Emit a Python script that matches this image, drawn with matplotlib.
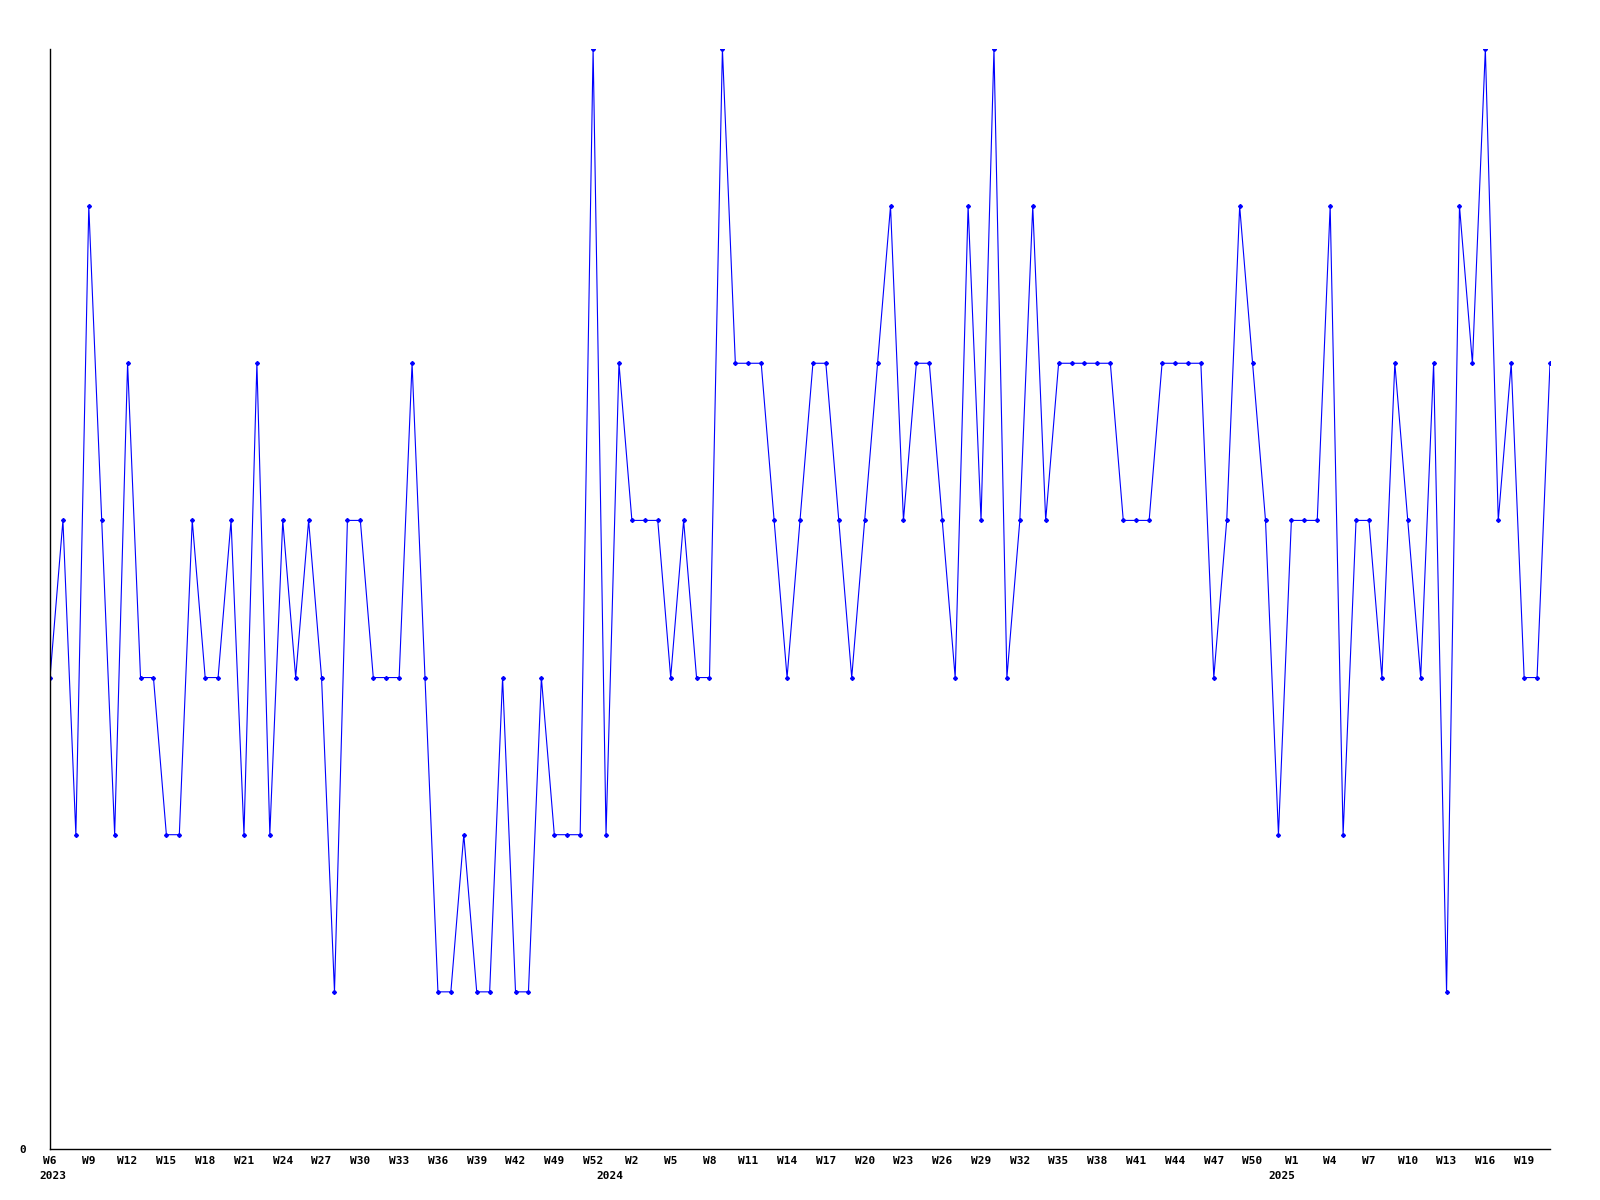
import matplotlib.pyplot as plt
import numpy as np

# week categories along the x axis (one point per week)
years = [2023] * 44 + [2024] * 52 + [2025] * 21
weeks = (list(range(6, 43)) + [43, 48, 49, 50, 51, 52, 53]
         + list(range(1, 53)) + list(range(1, 22)))

# weekly values
values = [3, 4, 2, 6, 4, 2, 5, 3, 3, 2, 2, 4, 3, 3, 4, 2, 5, 2, 4, 3, 4, 3, 1, 4, 4,
          3, 3, 3, 5, 3, 1, 1, 2, 1, 1, 3, 1, 1, 3, 2, 2, 2, 7, 2, 5, 4, 4, 4, 3,
          4, 3, 3, 7, 5, 5, 5, 4, 3, 4, 5, 5, 4, 3, 4, 5, 6, 4, 5, 5, 4, 3, 6, 4,
          7, 3, 4, 6, 4, 5, 5, 5, 5, 5, 4, 4, 4, 5, 5, 5, 5, 3, 4, 6, 5, 4, 2, 4,
          4, 4, 6, 2, 4, 4, 3, 5, 4, 3, 5, 1, 6, 5, 7, 4, 5, 3, 3, 5]

font = dict(family='DejaVu Sans Mono', weight='bold', size=8)

fig = plt.figure(figsize=(16, 12), dpi=100)
ax = fig.add_axes([0.03125, 0.0425, 0.9375, 0.9167])

x = np.arange(len(values))
ax.plot(x, values, color='#0000ff', lw=0.8, marker='D', ms=2)

ax.set_xlim(0, len(values) - 1)
ax.set_ylim(0, 7)
ax.spines['top'].set_visible(False)
ax.spines['right'].set_visible(False)
for s in ['left', 'bottom']:
    ax.spines[s].set_linewidth(1)
    ax.spines[s].set_color('black')

# week ticks every third point
ticks = x[::3]
ax.set_xticks(ticks)
ax.set_xticklabels(['W%d' % weeks[i] for i in ticks], **font)
ax.tick_params(axis='x', length=0, pad=5)

ax.set_yticks([0])
ax.set_yticklabels(['0'], **font)
ax.tick_params(axis='y', length=0, pad=17)

# year labels under the first week of each year
for yr in sorted(set(years)):
    i = years.index(yr)
    ax.annotate(str(yr), xy=(max(i - 0.7, 0.25), 0),
                xycoords=('data', 'axes fraction'),
                xytext=(0, -16), textcoords='offset points',
                ha='center', va='top', **font)

fig.savefig('out.png', dpi=100)
